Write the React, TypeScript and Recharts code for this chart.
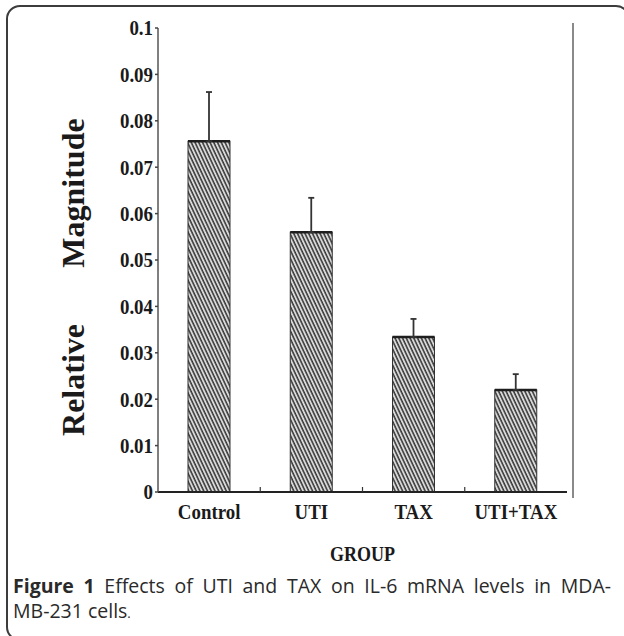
import { BarChart, Bar, XAxis, YAxis, ErrorBar } from 'recharts';

// IL-6 mRNA, relative magnitude per group (mean, upper error)
const GROUPS = ['Control', 'UTI', 'TAX', 'UTI+TAX'];
const MEANS = [0.0756, 0.056, 0.0334, 0.022];
const ERRORS = [0.0106, 0.0074, 0.0039, 0.0034];
const Y_TICKS = [0, 0.01, 0.02, 0.03, 0.04, 0.05, 0.06, 0.07, 0.08, 0.09, 0.1];

const data = GROUPS.map((group, i) => ({ group, value: MEANS[i], err: [0, ERRORS[i]] }));

const SERIF = '"Liberation Serif", "Times New Roman", serif';

const fmt = (v: number) => Number(v.toFixed(2)).toString();

function HatchBar(props: any) {
  const { x, y, width, height } = props;
  if (!height) return null;
  return (
    <g>
      <rect x={x} y={y} width={width} height={height} fill="url(#hatch)" stroke="#333" strokeWidth={1} />
      <line x1={x} x2={x + width} y1={y} y2={y} stroke="#1e1e1e" strokeWidth={2.5} />
    </g>
  );
}

function XTick(props: any) {
  const { x, y, payload } = props;
  const off = payload.offset ?? 51;
  return (
    <g>
      {payload.index < GROUPS.length - 1 && (
        <line x1={x + off} x2={x + off} y1={y} y2={y - 5} stroke="#333" strokeWidth={1.2} />
      )}
      <text
        transform={`translate(${x},${y + 27}) scale(0.9,1)`}
        textAnchor="middle"
        fontFamily={SERIF}
        fontWeight="bold"
        fontSize={21}
        fill="#1a1a1a"
      >
        {payload.value}
      </text>
    </g>
  );
}

function YTick(props: any) {
  const { x, y, payload } = props;
  return (
    <text
      transform={`translate(${x},${y}) scale(0.9,1)`}
      textAnchor="end"
      dy="0.35em"
      fontFamily={SERIF}
      fontWeight="bold"
      fontSize={21}
      fill="#1a1a1a"
    >
      {fmt(payload.value)}
    </text>
  );
}

function YLabel() {
  return (
    <g fontFamily={SERIF} fontWeight="bold" fontSize={32} fill="#1a1a1a">
      <text transform="translate(84,380) rotate(-90)" textAnchor="middle">Relative</text>
      <text transform="translate(84,193) rotate(-90)" textAnchor="middle">Magnitude</text>
    </g>
  );
}

function XLabel(props: any) {
  const { viewBox } = props;
  const cx = viewBox.x + viewBox.width / 2;
  return (
    <text
      transform={`translate(${cx},561) scale(0.9,1)`}
      textAnchor="middle"
      fontFamily={SERIF}
      fontWeight="bold"
      fontSize={20}
      fill="#1a1a1a"
    >
      GROUP
    </text>
  );
}

export default function App() {
  return (
    <div style={{ position: 'fixed', left: 0, top: 0, width: 624, height: 636, background: '#fff', overflow: 'hidden' }}>
      {/* figure frame */}
      <div
        style={{
          position: 'absolute', left: 6, top: 5, width: 624, height: 636, boxSizing: 'border-box',
          border: '2px solid #3c3c3c', borderRadius: 14,
        }}
      />
      {/* right frame line of the plot */}
      <div style={{ position: 'absolute', left: 572, top: 23, width: 2, height: 475, background: '#8a8a8a' }} />

      <div style={{ position: 'absolute', left: 0, top: 0 }}>
        <BarChart
          width={624}
          height={636}
          data={data}
          margin={{ top: 28, right: 57, bottom: 84, left: 98 }}
          barSize={42}
        >
          <defs>
            <pattern id="hatch" patternUnits="userSpaceOnUse" width={3.4} height={3.4} patternTransform="rotate(-25)">
              <rect width={3.4} height={3.4} fill="#e2e2e2" />
              <line x1={1} y1={0} x2={1} y2={3.4} stroke="#363636" strokeWidth={1.6} />
            </pattern>
          </defs>
          <XAxis
            dataKey="group"
            height={60}
            tickSize={0}
            tickMargin={0}
            tickLine={false}
            axisLine={{ stroke: '#222', strokeWidth: 2 }}
            tick={<XTick />}
            interval={0}
            label={<XLabel />}
          />
          <YAxis
            width={60}
            domain={[0, 0.1]}
            ticks={Y_TICKS}
            interval={0}
            tickSize={3}
            tickMargin={2}
            tickLine={{ stroke: '#444', strokeWidth: 1.5 }}
            axisLine={{ stroke: '#555', strokeWidth: 1.5 }}
            tick={<YTick />}
            label={<YLabel />}
          />
          <Bar dataKey="value" shape={<HatchBar />} isAnimationActive={false}>
            <ErrorBar dataKey="err" width={3} stroke="#333" strokeWidth={1.8} direction="y" isAnimationActive={false} />
          </Bar>
        </BarChart>
      </div>

      {/* caption */}
      <div
        style={{
          position: 'absolute', left: 13, top: 573, width: 598, fontFamily: '"Open Sans", sans-serif',
          fontSize: 19.5, lineHeight: '25px', color: '#2a2a2a', whiteSpace: 'nowrap',
        }}
      >
        <div style={{ textAlign: 'justify', textAlignLast: 'justify' }}>
          <b>Figure 1</b> Effects of UTI and TAX on IL-6 mRNA levels in MDA-
        </div>
        <div>
          MB-231 cells<span style={{ fontSize: 13 }}>.</span>
        </div>
      </div>
    </div>
  );
}
